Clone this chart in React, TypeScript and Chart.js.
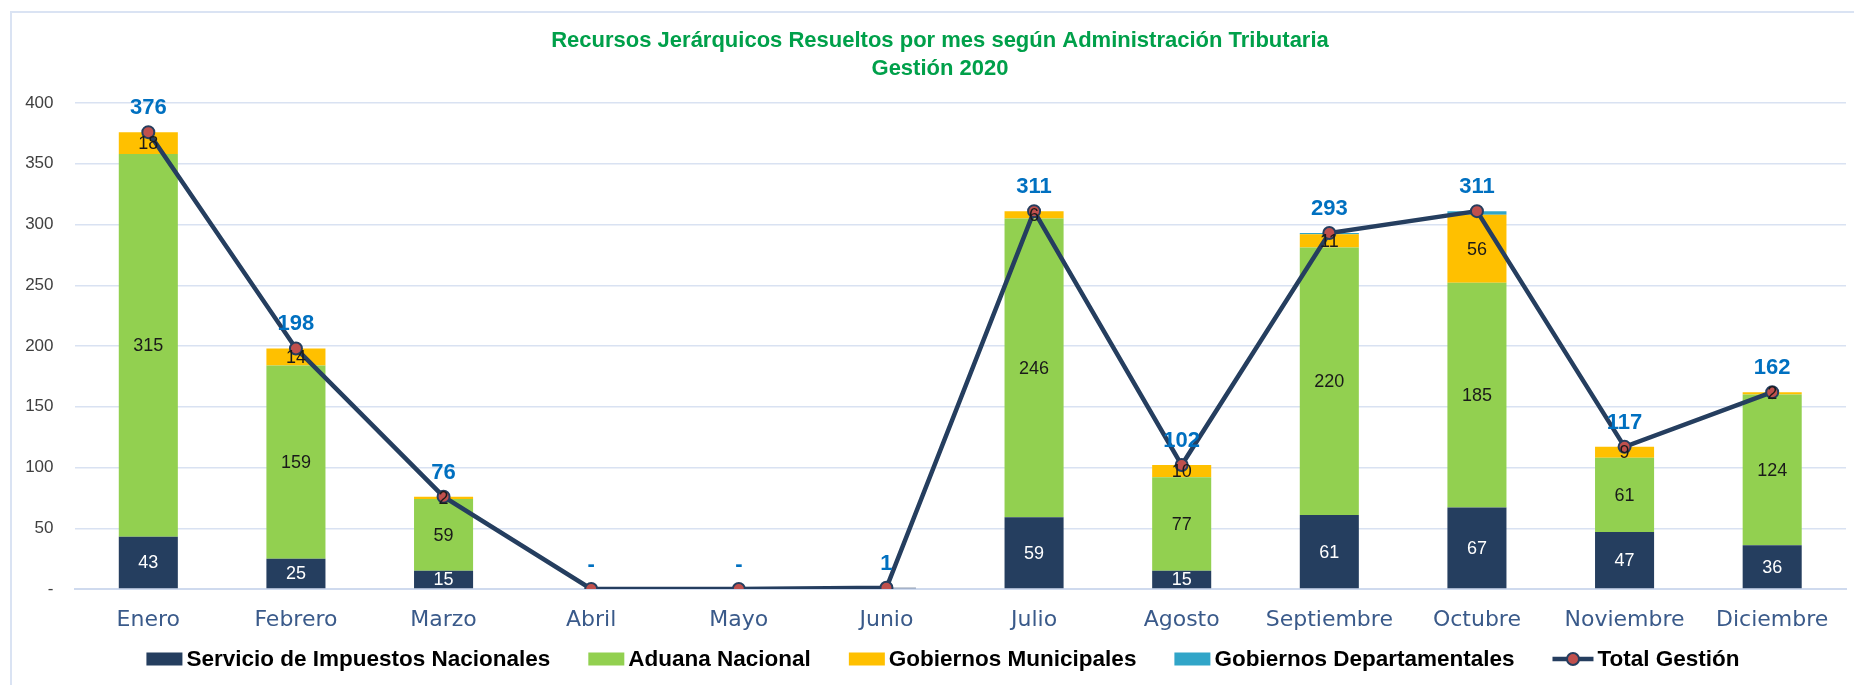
import React, { useEffect, useRef } from "react";
import { Chart, registerables } from "chart.js";

Chart.register(...registerables);

const categories = ["Enero", "Febrero", "Marzo", "Abril", "Mayo", "Junio", "Julio", "Agosto", "Septiembre", "Octubre", "Noviembre", "Diciembre"];
const seriesNames = ["Servicio de Impuestos Nacionales", "Aduana Nacional", "Gobiernos Municipales", "Gobiernos Departamentales", "Total Gestión"];
const sinValues = [43, 25, 15, 0, 0, 1, 59, 15, 61, 67, 47, 36];
const aduanaValues = [315, 159, 59, 0, 0, 0, 246, 77, 220, 185, 61, 124];
const municipalValues = [18, 14, 2, 0, 0, 0, 6, 10, 11, 56, 9, 2];
const departamentalValues = [0, 0, 0, 0, 0, 0, 0, 0, 1, 3, 0, 0];
const totalValues = [376, 198, 76, 0, 0, 1, 311, 102, 293, 311, 117, 162];
const titleLines = ["Recursos Jerárquicos Resueltos por mes según Administración Tributaria", "Gestión 2020"];

const barColors = ["#253e5f", "#92d050", "#ffc000", "#31a5c8"];
const segmentLabelColors = ["#ffffff", "#1a1a1a", "#1a1a1a", "#1a1a1a"];
const showSegmentLabels = [true, true, true, false];
const lineColor = "#253e5f";
const pointColor = "#c0504d";

const W = 1854;
const H = 685;

const framePlugin = {
  id: "frame",
  beforeDraw(chart: any) {
    const ctx = chart.ctx;
    ctx.save();
    ctx.fillStyle = "#ffffff";
    ctx.fillRect(0, 0, W, H);
    ctx.strokeStyle = "#dae3f3";
    ctx.lineWidth = 2;
    ctx.strokeRect(11, 12, W + 20, H + 20);
    ctx.restore();
  },
};

const titlePlugin = {
  id: "titleDraw",
  afterDraw(chart: any) {
    const ctx = chart.ctx;
    ctx.save();
    ctx.fillStyle = "#00a04a";
    ctx.font = "bold 22px 'Liberation Sans', Arial, sans-serif";
    ctx.textAlign = "center";
    ctx.textBaseline = "middle";
    ctx.fillText(titleLines[0], 940, 41);
    ctx.fillText(titleLines[1], 940, 69);
    ctx.restore();
  },
};

const labelsPlugin = {
  id: "valueLabels",
  afterDatasetsDraw(chart: any) {
    const ctx = chart.ctx;
    ctx.save();
    ctx.textAlign = "center";
    ctx.textBaseline = "middle";
    for (let di = 0; di < 4; di++) {
      if (!showSegmentLabels[di]) continue;
      const meta = chart.getDatasetMeta(di);
      const data = chart.data.datasets[di].data as number[];
      ctx.font = "18px 'Liberation Sans', Arial, sans-serif";
      ctx.fillStyle = segmentLabelColors[di];
      meta.data.forEach((el: any, i: number) => {
        const v = data[i];
        if (v < 2) return;
        ctx.fillText(String(v), el.x, (el.y + el.base) / 2 + 1);
      });
    }
    const lmeta = chart.getDatasetMeta(4);
    ctx.font = "bold 22px 'Liberation Sans', Arial, sans-serif";
    ctx.fillStyle = "#0070c0";
    lmeta.data.forEach((el: any, i: number) => {
      const v = totalValues[i];
      ctx.fillText(v === 0 ? "-" : String(v), el.x, el.y - 24);
    });
    ctx.restore();
  },
};

const legendPlugin = {
  id: "legendDraw",
  afterDraw(chart: any) {
    const ctx = chart.ctx;
    ctx.save();
    ctx.font = "bold 22.5px 'Liberation Sans', Arial, sans-serif";
    ctx.textBaseline = "middle";
    ctx.textAlign = "left";
    const boxW = 36;
    const boxH = 13;
    const lineW = 41;
    const gapText = 4;
    const gapItem = 38;
    const widths = seriesNames.map((n, i) => (i < 4 ? boxW : lineW) + gapText + ctx.measureText(n).width);
    const total = widths.reduce((a, b) => a + b, 0) + gapItem * (seriesNames.length - 1);
    let x = 943 - total / 2;
    const y = 659;
    seriesNames.forEach((n, i) => {
      if (i < 4) {
        ctx.fillStyle = barColors[i];
        ctx.fillRect(x, y - boxH / 2, boxW, boxH);
        x += boxW + gapText;
      } else {
        ctx.strokeStyle = lineColor;
        ctx.lineWidth = 4.5;
        ctx.beginPath();
        ctx.moveTo(x, y);
        ctx.lineTo(x + lineW, y);
        ctx.stroke();
        ctx.beginPath();
        ctx.arc(x + lineW / 2, y, 6, 0, Math.PI * 2);
        ctx.fillStyle = pointColor;
        ctx.fill();
        ctx.lineWidth = 2;
        ctx.stroke();
        x += lineW + gapText;
      }
      ctx.fillStyle = "#000000";
      ctx.fillText(n, x, y + 1);
      x += ctx.measureText(n).width + gapItem;
    });
    ctx.restore();
  },
};

export default function App() {
  const ref = useRef<HTMLCanvasElement | null>(null);
  useEffect(() => {
    if (!ref.current) return;
    const barData = [sinValues, aduanaValues, municipalValues, departamentalValues];
    const datasets: any[] = barData.map((d, i) => ({
      type: "bar",
      label: seriesNames[i],
      data: d,
      backgroundColor: barColors[i],
      borderWidth: 0,
      stack: "bars",
      order: 1,
      barPercentage: 0.4,
      categoryPercentage: 1,
    }));
    datasets.push({
      type: "line",
      label: seriesNames[4],
      data: totalValues,
      borderColor: lineColor,
      borderWidth: 4.5,
      pointRadius: 6,
      pointBackgroundColor: pointColor,
      pointBorderColor: lineColor,
      pointBorderWidth: 2,
      stack: "line",
      order: 0,
      tension: 0,
    });
    const chart = new Chart(ref.current, {
      type: "bar",
      data: { labels: categories, datasets },
      options: {
        responsive: false,
        animation: false,
        devicePixelRatio: 1,
        layout: { padding: { top: 103, left: 10, right: 8, bottom: 0 } },
        plugins: {
          legend: { display: false },
          title: { display: false },
          tooltip: { enabled: false },
        },
        scales: {
          x: {
            stacked: true,
            offset: true,
            grid: { display: false, drawTicks: false },
            border: { display: true, color: "#cfdaee", width: 2 },
            ticks: {
              color: "#3a5a8a",
              font: { family: "'DejaVu Sans', sans-serif", size: 22 },
              padding: 18,
              maxRotation: 0,
              autoSkip: false,
            },
            afterFit(scale: any) {
              scale.height = 96;
            },
          },
          y: {
            stacked: true,
            min: 0,
            max: 400,
            grid: {
              color: "#d9e2f2",
              lineWidth: 1.5,
              drawTicks: false,
            },
            border: { display: false },
            ticks: {
              stepSize: 50,
              color: "#404040",
              padding: 21,
              font: { family: "'Liberation Sans', Arial, sans-serif", size: 17 },
              callback: (v: any) => (Number(v) === 0 ? "-" : String(v)),
            },
            afterFit(scale: any) {
              scale.width = 64.5;
            },
          },
        },
      } as any,
      plugins: [framePlugin, titlePlugin, labelsPlugin, legendPlugin],
    });
    return () => chart.destroy();
  }, []);
  return (
    <div style={{ position: "absolute", left: 0, top: 0, width: W, height: H }}>
      <canvas ref={ref} width={W} height={H} style={{ width: W, height: H, display: "block" }} />
    </div>
  );
}
